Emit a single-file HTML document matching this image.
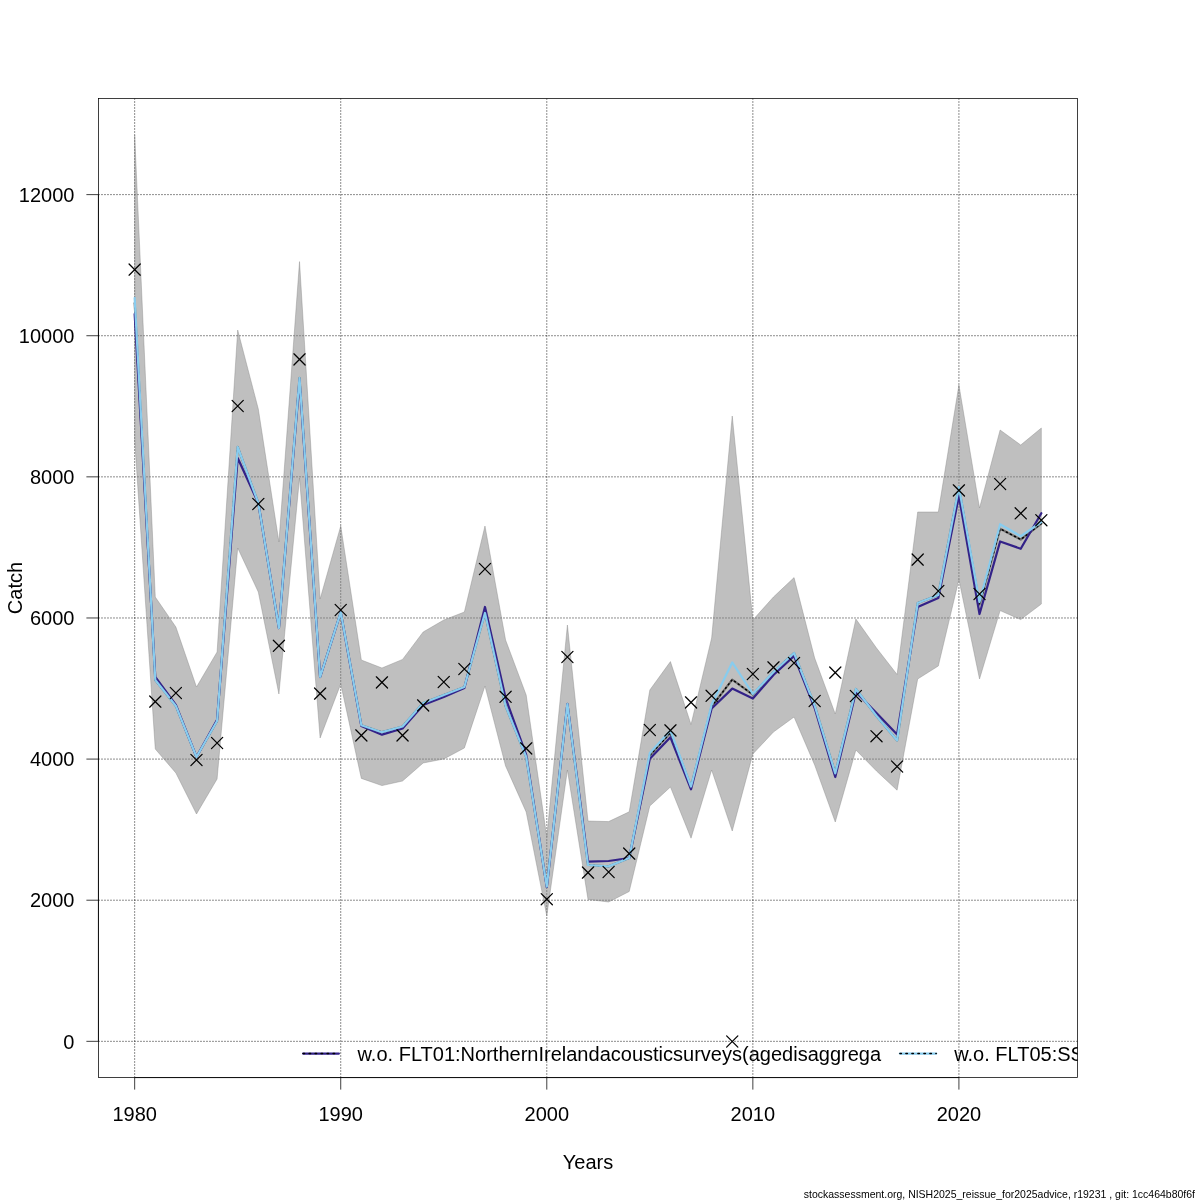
<!DOCTYPE html>
<html><head><meta charset="utf-8"><title>Catch</title>
<style>html,body{margin:0;padding:0;background:#fff}svg{display:block}text{font-family:"Liberation Sans",Arial,Helvetica,sans-serif;fill:#000}</style></head><body>
<svg width="1200" height="1200" viewBox="0 0 1200 1200">
<rect x="0" y="0" width="1200" height="1200" fill="#ffffff"/>
<defs><clipPath id="c"><rect x="98.4" y="98.4" width="979.1999999999999" height="979.1999999999999"/></clipPath></defs>
<rect x="98.4" y="98.4" width="979.2" height="979.2" fill="none" stroke="#000" stroke-width="0.75"/>
<line x1="134.67" y1="1077.6" x2="134.67" y2="1089.6" stroke="#000" stroke-width="0.75"/>
<text x="134.67" y="1120.5" font-size="20" text-anchor="middle">1980</text>
<line x1="340.73" y1="1077.6" x2="340.73" y2="1089.6" stroke="#000" stroke-width="0.75"/>
<text x="340.73" y="1120.5" font-size="20" text-anchor="middle">1990</text>
<line x1="546.79" y1="1077.6" x2="546.79" y2="1089.6" stroke="#000" stroke-width="0.75"/>
<text x="546.79" y="1120.5" font-size="20" text-anchor="middle">2000</text>
<line x1="752.85" y1="1077.6" x2="752.85" y2="1089.6" stroke="#000" stroke-width="0.75"/>
<text x="752.85" y="1120.5" font-size="20" text-anchor="middle">2010</text>
<line x1="958.91" y1="1077.6" x2="958.91" y2="1089.6" stroke="#000" stroke-width="0.75"/>
<text x="958.91" y="1120.5" font-size="20" text-anchor="middle">2020</text>
<line x1="86.4" y1="1041.33" x2="98.4" y2="1041.33" stroke="#000" stroke-width="0.75"/>
<text x="74.4" y="1048.53" font-size="20" text-anchor="end">0</text>
<line x1="86.4" y1="900.21" x2="98.4" y2="900.21" stroke="#000" stroke-width="0.75"/>
<text x="74.4" y="907.41" font-size="20" text-anchor="end">2000</text>
<line x1="86.4" y1="759.09" x2="98.4" y2="759.09" stroke="#000" stroke-width="0.75"/>
<text x="74.4" y="766.29" font-size="20" text-anchor="end">4000</text>
<line x1="86.4" y1="617.97" x2="98.4" y2="617.97" stroke="#000" stroke-width="0.75"/>
<text x="74.4" y="625.17" font-size="20" text-anchor="end">6000</text>
<line x1="86.4" y1="476.85" x2="98.4" y2="476.85" stroke="#000" stroke-width="0.75"/>
<text x="74.4" y="484.05" font-size="20" text-anchor="end">8000</text>
<line x1="86.4" y1="335.73" x2="98.4" y2="335.73" stroke="#000" stroke-width="0.75"/>
<text x="74.4" y="342.93" font-size="20" text-anchor="end">10000</text>
<line x1="86.4" y1="194.61" x2="98.4" y2="194.61" stroke="#000" stroke-width="0.75"/>
<text x="74.4" y="201.81" font-size="20" text-anchor="end">12000</text>
<line x1="98.4" y1="1041.33" x2="98.4" y2="194.61" stroke="#000" stroke-width="0.75"/>
<line x1="134.67" y1="1077.6" x2="958.91" y2="1077.6" stroke="#000" stroke-width="0.75"/>
<text x="588" y="1168.7" font-size="20" text-anchor="middle">Years</text>
<text transform="translate(22.1,588) rotate(-90)" font-size="20" text-anchor="middle">Catch</text>
<g clip-path="url(#c)">
<line x1="134.67" y1="1077.6" x2="134.67" y2="98.4" stroke="#000" stroke-width="0.75" stroke-dasharray="1.2 1.8"/>
<line x1="340.73" y1="1077.6" x2="340.73" y2="98.4" stroke="#000" stroke-width="0.75" stroke-dasharray="1.2 1.8"/>
<line x1="546.79" y1="1077.6" x2="546.79" y2="98.4" stroke="#000" stroke-width="0.75" stroke-dasharray="1.2 1.8"/>
<line x1="752.85" y1="1077.6" x2="752.85" y2="98.4" stroke="#000" stroke-width="0.75" stroke-dasharray="1.2 1.8"/>
<line x1="958.91" y1="1077.6" x2="958.91" y2="98.4" stroke="#000" stroke-width="0.75" stroke-dasharray="1.2 1.8"/>
<line x1="98.4" y1="1041.33" x2="1077.6" y2="1041.33" stroke="#000" stroke-width="0.75" stroke-dasharray="1.2 1.8"/>
<line x1="98.4" y1="900.21" x2="1077.6" y2="900.21" stroke="#000" stroke-width="0.75" stroke-dasharray="1.2 1.8"/>
<line x1="98.4" y1="759.09" x2="1077.6" y2="759.09" stroke="#000" stroke-width="0.75" stroke-dasharray="1.2 1.8"/>
<line x1="98.4" y1="617.97" x2="1077.6" y2="617.97" stroke="#000" stroke-width="0.75" stroke-dasharray="1.2 1.8"/>
<line x1="98.4" y1="476.85" x2="1077.6" y2="476.85" stroke="#000" stroke-width="0.75" stroke-dasharray="1.2 1.8"/>
<line x1="98.4" y1="335.73" x2="1077.6" y2="335.73" stroke="#000" stroke-width="0.75" stroke-dasharray="1.2 1.8"/>
<line x1="98.4" y1="194.61" x2="1077.6" y2="194.61" stroke="#000" stroke-width="0.75" stroke-dasharray="1.2 1.8"/>
<polygon points="134.67,135.00 155.28,597.00 175.88,627.00 196.49,687.00 217.09,652.00 237.70,330.00 258.31,409.00 278.91,542.00 299.52,261.60 320.12,599.00 340.73,526.00 361.34,660.00 381.94,668.00 402.55,659.40 423.15,632.00 443.76,620.00 464.37,612.00 484.97,526.00 505.58,640.00 526.18,695.00 546.79,837.00 567.40,625.00 588.00,821.00 608.61,821.60 629.21,811.80 649.82,690.00 670.43,661.60 691.03,724.50 711.64,638.00 732.24,416.00 752.85,620.00 773.46,597.00 794.06,577.60 814.67,658.00 835.27,714.00 855.88,619.00 876.49,648.00 897.09,674.50 917.70,512.00 938.30,512.00 958.91,385.00 979.52,508.00 1000.12,430.00 1020.73,445.00 1041.33,428.00 1041.33,604.00 1020.73,619.60 1000.12,610.60 979.52,679.00 958.91,579.50 938.30,666.00 917.70,679.00 897.09,790.20 876.49,771.00 855.88,750.00 835.27,822.00 814.67,765.00 794.06,717.00 773.46,732.00 752.85,754.00 732.24,831.00 711.64,770.00 691.03,838.20 670.43,787.00 649.82,806.00 629.21,891.50 608.61,902.00 588.00,899.40 567.40,770.00 546.79,916.00 526.18,812.00 505.58,766.00 484.97,686.00 464.37,748.00 443.76,759.00 423.15,763.00 402.55,781.00 381.94,785.60 361.34,778.40 340.73,684.00 320.12,738.00 299.52,478.00 278.91,694.00 258.31,592.00 237.70,548.00 217.09,779.00 196.49,814.00 175.88,773.00 155.28,749.00 134.67,440.00" fill="rgb(127,127,127)" fill-opacity="0.5" stroke="rgb(127,127,127)" stroke-opacity="0.5" stroke-width="0.75" stroke-linejoin="round"/>
<polyline points="134.67,303.00 155.28,680.00 175.88,706.00 196.49,757.00 217.09,721.00 237.70,447.00 258.31,503.00 278.91,628.00 299.52,378.00 320.12,677.00 340.73,612.30 361.34,725.30 381.94,732.20 402.55,726.50 423.15,703.00 443.76,695.00 464.37,687.00 484.97,613.00 505.58,706.00 526.18,757.00 546.79,886.50 567.40,704.00 588.00,865.00 608.61,866.40 629.21,858.00 649.82,755.30 670.43,732.70 691.03,786.50 711.64,706.50 732.24,679.60 752.85,694.60 773.46,672.00 794.06,653.00 814.67,705.50 835.27,773.30 855.88,689.00 876.49,716.00 897.09,740.50 917.70,603.00 938.30,595.00 958.91,487.00 979.52,604.50 1000.12,528.75 1020.73,539.50 1041.33,523.50" fill="none" stroke="#6e6e6e" stroke-width="2.25" stroke-linejoin="round" stroke-linecap="round"/>
<polyline points="134.67,303.00 155.28,680.00 175.88,706.00 196.49,757.00 217.09,721.00 237.70,447.00 258.31,503.00 278.91,628.00 299.52,378.00 320.12,677.00 340.73,612.30 361.34,725.30 381.94,732.20 402.55,726.50 423.15,703.00 443.76,695.00 464.37,687.00 484.97,613.00 505.58,706.00 526.18,757.00 546.79,886.50 567.40,704.00 588.00,865.00 608.61,866.40 629.21,858.00 649.82,755.30 670.43,732.70 691.03,786.50 711.64,706.50 732.24,679.60 752.85,694.60 773.46,672.00 794.06,653.00 814.67,705.50 835.27,773.30 855.88,689.00 876.49,716.00 897.09,740.50 917.70,603.00 938.30,595.00 958.91,487.00 979.52,604.50 1000.12,528.75 1020.73,539.50 1041.33,523.50" fill="none" stroke="#000" stroke-width="1.5" stroke-linejoin="round" stroke-linecap="round" stroke-dasharray="1.0 3.6"/>
<polyline points="134.67,314.00 155.28,677.00 175.88,705.00 196.49,757.00 217.09,719.70 237.70,458.00 258.31,503.00 278.91,628.00 299.52,380.00 320.12,677.00 340.73,612.50 361.34,726.00 381.94,734.70 402.55,728.50 423.15,705.00 443.76,697.00 464.37,688.00 484.97,607.00 505.58,698.00 526.18,755.00 546.79,887.00 567.40,704.00 588.00,861.60 608.61,861.00 629.21,858.00 649.82,758.70 670.43,737.30 691.03,789.30 711.64,708.50 732.24,688.60 752.85,698.40 773.46,675.00 794.06,656.00 814.67,708.00 835.27,777.00 855.88,692.00 876.49,713.00 897.09,734.50 917.70,607.00 938.30,598.00 958.91,496.00 979.52,614.00 1000.12,541.50 1020.73,548.75 1041.33,513.25" fill="none" stroke="#332288" stroke-width="2.25" stroke-linejoin="round" stroke-linecap="round"/>
<polyline points="134.67,298.00 155.28,680.00 175.88,706.00 196.49,757.00 217.09,721.00 237.70,447.00 258.31,503.00 278.91,628.00 299.52,378.00 320.12,677.00 340.73,612.30 361.34,725.30 381.94,732.20 402.55,726.50 423.15,703.00 443.76,695.00 464.37,687.00 484.97,613.00 505.58,706.00 526.18,757.00 546.79,886.50 567.40,704.00 588.00,865.00 608.61,866.40 629.21,858.00 649.82,753.00 670.43,730.50 691.03,786.50 711.64,704.50 732.24,662.40 752.85,694.00 773.46,672.00 794.06,653.00 814.67,705.50 835.27,773.30 855.88,689.00 876.49,716.00 897.09,740.50 917.70,603.00 938.30,595.00 958.91,487.00 979.52,602.00 1000.12,524.25 1020.73,536.25 1041.33,522.00" fill="none" stroke="#88CCEE" stroke-width="2.25" stroke-linejoin="round" stroke-linecap="round"/>
<path d="M129.07 264.00L140.27 275.20M129.07 275.20L140.27 264.00" stroke="#000" stroke-width="1.25" fill="none" stroke-linecap="round"/>
<path d="M149.68 696.00L160.88 707.20M149.68 707.20L160.88 696.00" stroke="#000" stroke-width="1.25" fill="none" stroke-linecap="round"/>
<path d="M170.28 687.40L181.48 698.60M170.28 698.60L181.48 687.40" stroke="#000" stroke-width="1.25" fill="none" stroke-linecap="round"/>
<path d="M190.89 754.40L202.09 765.60M190.89 765.60L202.09 754.40" stroke="#000" stroke-width="1.25" fill="none" stroke-linecap="round"/>
<path d="M211.49 737.40L222.69 748.60M211.49 748.60L222.69 737.40" stroke="#000" stroke-width="1.25" fill="none" stroke-linecap="round"/>
<path d="M232.10 400.40L243.30 411.60M232.10 411.60L243.30 400.40" stroke="#000" stroke-width="1.25" fill="none" stroke-linecap="round"/>
<path d="M252.71 498.40L263.91 509.60M252.71 509.60L263.91 498.40" stroke="#000" stroke-width="1.25" fill="none" stroke-linecap="round"/>
<path d="M273.31 640.20L284.51 651.40M273.31 651.40L284.51 640.20" stroke="#000" stroke-width="1.25" fill="none" stroke-linecap="round"/>
<path d="M293.92 353.80L305.12 365.00M293.92 365.00L305.12 353.80" stroke="#000" stroke-width="1.25" fill="none" stroke-linecap="round"/>
<path d="M314.52 688.00L325.72 699.20M314.52 699.20L325.72 688.00" stroke="#000" stroke-width="1.25" fill="none" stroke-linecap="round"/>
<path d="M335.13 604.40L346.33 615.60M335.13 615.60L346.33 604.40" stroke="#000" stroke-width="1.25" fill="none" stroke-linecap="round"/>
<path d="M355.74 729.80L366.94 741.00M355.74 741.00L366.94 729.80" stroke="#000" stroke-width="1.25" fill="none" stroke-linecap="round"/>
<path d="M376.34 676.80L387.54 688.00M376.34 688.00L387.54 676.80" stroke="#000" stroke-width="1.25" fill="none" stroke-linecap="round"/>
<path d="M396.95 729.80L408.15 741.00M396.95 741.00L408.15 729.80" stroke="#000" stroke-width="1.25" fill="none" stroke-linecap="round"/>
<path d="M417.55 699.80L428.75 711.00M417.55 711.00L428.75 699.80" stroke="#000" stroke-width="1.25" fill="none" stroke-linecap="round"/>
<path d="M438.16 676.40L449.36 687.60M438.16 687.60L449.36 676.40" stroke="#000" stroke-width="1.25" fill="none" stroke-linecap="round"/>
<path d="M458.77 663.40L469.97 674.60M458.77 674.60L469.97 663.40" stroke="#000" stroke-width="1.25" fill="none" stroke-linecap="round"/>
<path d="M479.37 563.40L490.57 574.60M479.37 574.60L490.57 563.40" stroke="#000" stroke-width="1.25" fill="none" stroke-linecap="round"/>
<path d="M499.98 691.20L511.18 702.40M499.98 702.40L511.18 691.20" stroke="#000" stroke-width="1.25" fill="none" stroke-linecap="round"/>
<path d="M520.58 742.80L531.78 754.00M520.58 754.00L531.78 742.80" stroke="#000" stroke-width="1.25" fill="none" stroke-linecap="round"/>
<path d="M541.19 893.60L552.39 904.80M541.19 904.80L552.39 893.60" stroke="#000" stroke-width="1.25" fill="none" stroke-linecap="round"/>
<path d="M561.80 651.40L573.00 662.60M561.80 662.60L573.00 651.40" stroke="#000" stroke-width="1.25" fill="none" stroke-linecap="round"/>
<path d="M582.40 867.00L593.60 878.20M582.40 878.20L593.60 867.00" stroke="#000" stroke-width="1.25" fill="none" stroke-linecap="round"/>
<path d="M603.01 866.40L614.21 877.60M603.01 877.60L614.21 866.40" stroke="#000" stroke-width="1.25" fill="none" stroke-linecap="round"/>
<path d="M623.61 848.00L634.81 859.20M623.61 859.20L634.81 848.00" stroke="#000" stroke-width="1.25" fill="none" stroke-linecap="round"/>
<path d="M644.22 724.40L655.42 735.60M644.22 735.60L655.42 724.40" stroke="#000" stroke-width="1.25" fill="none" stroke-linecap="round"/>
<path d="M664.83 724.80L676.03 736.00M664.83 736.00L676.03 724.80" stroke="#000" stroke-width="1.25" fill="none" stroke-linecap="round"/>
<path d="M685.43 696.80L696.63 708.00M685.43 708.00L696.63 696.80" stroke="#000" stroke-width="1.25" fill="none" stroke-linecap="round"/>
<path d="M706.04 690.20L717.24 701.40M706.04 701.40L717.24 690.20" stroke="#000" stroke-width="1.25" fill="none" stroke-linecap="round"/>
<path d="M726.64 1035.90L737.84 1047.10M726.64 1047.10L737.84 1035.90" stroke="#000" stroke-width="1.25" fill="none" stroke-linecap="round"/>
<path d="M747.25 668.40L758.45 679.60M747.25 679.60L758.45 668.40" stroke="#000" stroke-width="1.25" fill="none" stroke-linecap="round"/>
<path d="M767.86 661.80L779.06 673.00M767.86 673.00L779.06 661.80" stroke="#000" stroke-width="1.25" fill="none" stroke-linecap="round"/>
<path d="M788.46 657.40L799.66 668.60M788.46 668.60L799.66 657.40" stroke="#000" stroke-width="1.25" fill="none" stroke-linecap="round"/>
<path d="M809.07 695.40L820.27 706.60M809.07 706.60L820.27 695.40" stroke="#000" stroke-width="1.25" fill="none" stroke-linecap="round"/>
<path d="M829.67 667.00L840.87 678.20M829.67 678.20L840.87 667.00" stroke="#000" stroke-width="1.25" fill="none" stroke-linecap="round"/>
<path d="M850.28 690.40L861.48 701.60M850.28 701.60L861.48 690.40" stroke="#000" stroke-width="1.25" fill="none" stroke-linecap="round"/>
<path d="M870.89 730.60L882.09 741.80M870.89 741.80L882.09 730.60" stroke="#000" stroke-width="1.25" fill="none" stroke-linecap="round"/>
<path d="M891.49 760.90L902.69 772.10M891.49 772.10L902.69 760.90" stroke="#000" stroke-width="1.25" fill="none" stroke-linecap="round"/>
<path d="M912.10 554.00L923.30 565.20M912.10 565.20L923.30 554.00" stroke="#000" stroke-width="1.25" fill="none" stroke-linecap="round"/>
<path d="M932.70 585.40L943.90 596.60M932.70 596.60L943.90 585.40" stroke="#000" stroke-width="1.25" fill="none" stroke-linecap="round"/>
<path d="M953.31 484.80L964.51 496.00M953.31 496.00L964.51 484.80" stroke="#000" stroke-width="1.25" fill="none" stroke-linecap="round"/>
<path d="M973.92 588.40L985.12 599.60M973.92 599.60L985.12 588.40" stroke="#000" stroke-width="1.25" fill="none" stroke-linecap="round"/>
<path d="M994.52 478.40L1005.72 489.60M994.52 489.60L1005.72 478.40" stroke="#000" stroke-width="1.25" fill="none" stroke-linecap="round"/>
<path d="M1015.13 507.70L1026.33 518.90M1015.13 518.90L1026.33 507.70" stroke="#000" stroke-width="1.25" fill="none" stroke-linecap="round"/>
<path d="M1035.73 514.60L1046.93 525.80M1035.73 525.80L1046.93 514.60" stroke="#000" stroke-width="1.25" fill="none" stroke-linecap="round"/>
<line x1="303.1" y1="1053.5" x2="338.9" y2="1053.5" stroke="#332288" stroke-width="2.25" stroke-linecap="round"/>
<line x1="303.1" y1="1053.5" x2="338.9" y2="1053.5" stroke="#000" stroke-width="1.5" stroke-linecap="round" stroke-dasharray="1.5 4.5"/>
<text x="357.5" y="1060.5" font-size="20" textLength="523.6" lengthAdjust="spacingAndGlyphs">w.o. FLT01:NorthernIrelandacousticsurveys(agedisaggrega</text>
<line x1="899.9" y1="1053.5" x2="936.2" y2="1053.5" stroke="#88CCEE" stroke-width="2.25" stroke-linecap="round"/>
<line x1="899.9" y1="1053.5" x2="936.2" y2="1053.5" stroke="#000" stroke-width="1.5" stroke-linecap="round" stroke-dasharray="1.5 4.5"/>
<text x="954.2" y="1060.5" font-size="20">w.o. FLT05:SSB</text>
</g>
<text x="803.8" y="1197.6" font-size="10.5" textLength="391.2" lengthAdjust="spacingAndGlyphs">stockassessment.org, NISH2025_reissue_for2025advice, r19231 , git: 1cc464b80f6f</text>
</svg></body></html>
